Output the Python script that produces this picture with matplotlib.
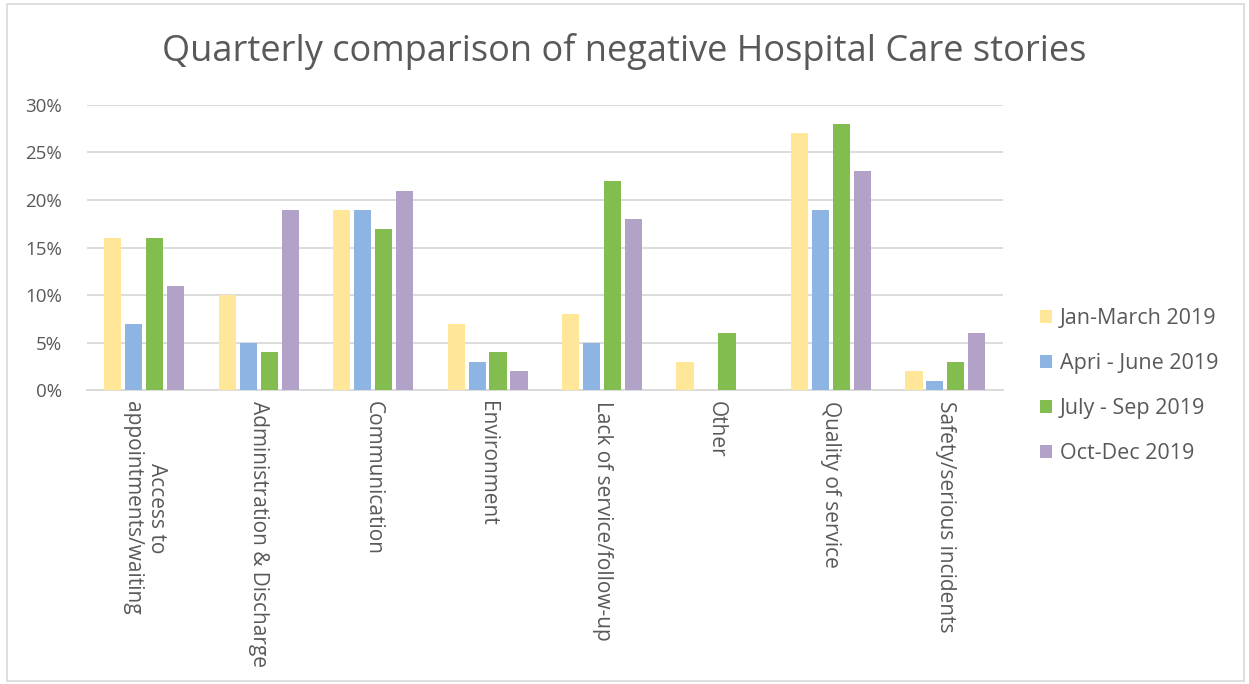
import matplotlib
matplotlib.use("Agg")
import matplotlib.pyplot as plt
from matplotlib.patches import Rectangle
from matplotlib.ticker import PercentFormatter, MultipleLocator
import numpy as np

plt.rcParams['font.family'] = ['Open Sans', 'DejaVu Sans']

categories = [
    "Access to\nappointments/waiting",
    "Administration & Discharge",
    "Communication",
    "Environment",
    "Lack of service/follow-up",
    "Other",
    "Quality of service",
    "Safety/serious incidents",
]
series_names = ["Jan-March 2019", "Apri - June 2019", "July - Sep 2019", "Oct-Dec 2019"]
jan_mar = [16, 10, 19, 7, 8, 3, 27, 2]
apr_jun = [7, 5, 19, 3, 5, 0, 19, 1]
jul_sep = [16, 4, 17, 4, 22, 6, 28, 3]
oct_dec = [11, 19, 21, 2, 18, 0, 23, 6]
colors = ["#FFE699", "#8EB4E3", "#84BD4F", "#B3A2C7"]

text_color = "#595959"
grid_color = "#D9D9D9"

fig = plt.figure(figsize=(12.49, 6.84), dpi=100)
ax = fig.add_axes([0.0697, 0.4298, 0.733, 0.4167])

x = np.arange(len(categories))
slot = 0.183
bar_w = 0.15
for i, (vals, name, c) in enumerate(zip([jan_mar, apr_jun, jul_sep, oct_dec], series_names, colors)):
    ax.bar(x + (i - 1.5) * slot, vals, width=bar_w, color=c, label=name, zorder=3)

ax.set_xlim(-0.5, len(categories) - 0.5)
ax.set_ylim(0, 30)
ax.yaxis.set_major_locator(MultipleLocator(5))
ax.yaxis.set_major_formatter(PercentFormatter(decimals=0))
ax.grid(axis='y', color=grid_color, linewidth=1.3, zorder=0)
for s in ["top", "right", "left"]:
    ax.spines[s].set_visible(False)
ax.spines["bottom"].set_color(grid_color)
ax.spines["bottom"].set_linewidth(1.3)
ax.tick_params(axis='y', length=0, labelsize=13.5, colors=text_color, pad=18)
ax.set_xticks(x)
ax.set_xticklabels(categories, rotation=270, va='top', ha='center',
                   multialignment='center')
ax.tick_params(axis='x', length=0, labelsize=15, colors=text_color, pad=8)

fig.suptitle("Quarterly comparison of negative Hospital Care stories",
             x=0.5, y=0.952, fontsize=26, color=text_color)

leg = ax.legend(loc='center left', bbox_to_anchor=(1.02, 0.013), frameon=False,
                fontsize=15.5, labelcolor=text_color, handlelength=0.55,
                handleheight=0.55, handletextpad=0.35, labelspacing=1.12)

fig.patches.append(Rectangle((0.006, 0.004), 0.99, 0.99, transform=fig.transFigure,
                             fill=False, edgecolor="#D9D9D9", linewidth=1.2))

fig.savefig("out.png", dpi=100, facecolor="white")
